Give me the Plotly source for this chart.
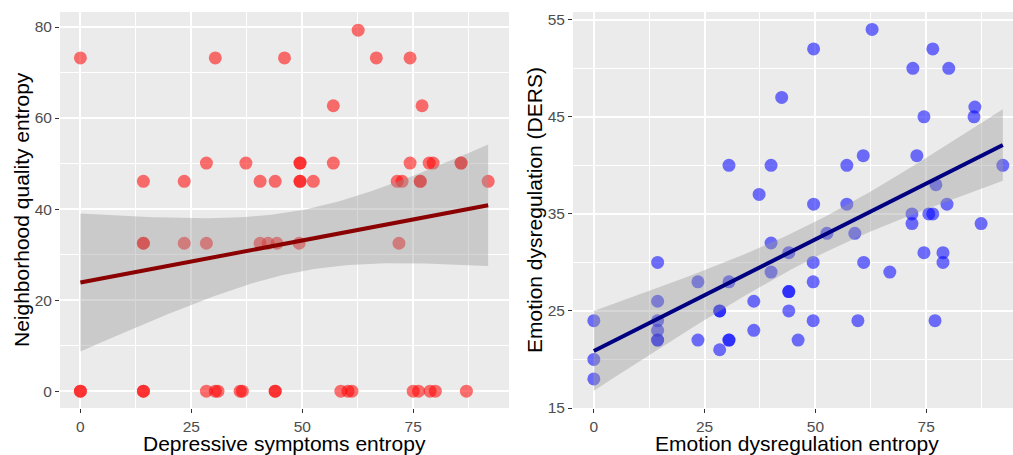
import numpy as np
import plotly.graph_objects as go

# ---- Left panel data: Depressive symptoms entropy vs Neighborhood quality entropy
dep_x = [0, 30.4, 46, 66.7, 74.3,
         62.6,
         57, 77,
         28.4, 37.3, 49.5, 49.5, 57, 74.3, 78.6, 79.5, 85.8, 85.8,
         14.2, 23.4, 40.5, 43.9, 49.5, 49.5, 52.5, 71.4, 72.5, 76.6, 76.6, 91.9,
         14.2, 14.2, 23.4, 28.4, 40.5, 42.3, 44.3, 49.3, 71.8,
         0, 0, 14.2, 14.2, 28.4, 30.4, 31, 36, 36.5, 43.9, 43.9, 58.7, 60.3, 61.2,
         75, 76.2, 78.8, 80, 87]
nbh_y = [73.2, 73.2, 73.2, 73.2, 73.2,
         79.3,
         62.7, 62.7,
         50.1, 50.1, 50.1, 50.1, 50.1, 50.1, 50.1, 50.1, 50.1, 50.1,
         46.1, 46.1, 46.1, 46.1, 46.1, 46.1, 46.1, 46.1, 46.1, 46.1, 46.1, 46.1,
         32.5, 32.5, 32.5, 32.5, 32.5, 32.5, 32.5, 32.5, 32.5,
         0, 0, 0, 0, 0, 0, 0, 0, 0, 0, 0, 0, 0, 0,
         0, 0, 0, 0, 0]

# ---- Right panel data: Emotion dysregulation entropy vs DERS
emo_x = [0, 0, 0,
         14.4, 14.4, 14.4, 14.4, 14.4, 14.4,
         23.5, 23.5,
         28.4, 28.4, 28.4,
         30.5, 30.5, 30.5, 30.5,
         36.1, 36.1, 37.3,
         40, 40, 40,
         42.4,
         44, 44, 44, 44,
         46.1,
         49.6, 49.6, 49.5, 49.5, 49.5,
         52.6,
         57.1, 57.1,
         58.9, 59.6,
         60.8, 60.9,
         62.8,
         66.8,
         71.8, 71.8, 72, 72.9,
         74.5, 74.5,
         75.6, 76.5, 76.5, 77.2, 77,
         78.8, 78.8, 79.7, 80.1,
         85.8, 86, 87.4, 92.3]
ders_y = [24, 20, 18,
          30, 26, 24, 23, 22, 22,
          28, 22,
          25, 25, 21,
          28, 40, 22, 22,
          26, 23, 37,
          40, 32, 29,
          47,
          31, 27, 27, 25,
          22,
          52, 36, 30, 28, 24,
          33,
          40, 36,
          33, 24,
          41, 30,
          54,
          29,
          35, 34, 50, 41,
          45, 31,
          35, 52, 35, 38, 24,
          31, 30, 36, 50,
          45, 46, 34, 40]

left_ticks_x = [0, 25, 50, 75]
left_ticks_y = [0, 20, 40, 60, 80]
right_ticks_x = [0, 25, 50, 75]
right_ticks_y = [15, 25, 35, 45, 55]

T975 = 2.0  # t quantile for ~60 df


def lm_band(x, y, n=80):
    x = np.asarray(x, float)
    y = np.asarray(y, float)
    b1, b0 = np.polyfit(x, y, 1)
    res = y - (b0 + b1 * x)
    dfree = len(x) - 2
    s = np.sqrt(np.sum(res ** 2) / dfree)
    xs = np.linspace(x.min(), x.max(), n)
    fit = b0 + b1 * xs
    se = s * np.sqrt(1 / len(x) + (xs - x.mean()) ** 2 / np.sum((x - x.mean()) ** 2))
    return xs, fit, fit - T975 * se, fit + T975 * se


fig = go.Figure()

W, H = 1013, 455


def px_x(p):
    return p / W


def px_y(p):
    return 1 - p / H


panels = [
    dict(x=dep_x, y=nbh_y, xa="x", ya="y", pt="rgba(255,0,0,0.55)", ln="#8B0000"),
    dict(x=emo_x, y=ders_y, xa="x2", ya="y2", pt="rgba(0,0,255,0.55)", ln="#000080"),
]

for p in panels:
    xs, fit, lo, hi = lm_band(p["x"], p["y"])
    fig.add_trace(go.Scatter(x=p["x"], y=p["y"], mode="markers", xaxis=p["xa"], yaxis=p["ya"],
                             marker=dict(size=13, color=p["pt"], line=dict(width=0)),
                             showlegend=False, hoverinfo="skip"))
    fig.add_trace(go.Scatter(x=np.concatenate([xs, xs[::-1]]), y=np.concatenate([hi, lo[::-1]]),
                             mode="lines", fill="toself", fillcolor="rgba(153,153,153,0.4)",
                             line=dict(width=0), xaxis=p["xa"], yaxis=p["ya"],
                             showlegend=False, hoverinfo="skip"))
    fig.add_trace(go.Scatter(x=xs, y=fit, mode="lines", line=dict(color=p["ln"], width=4),
                             xaxis=p["xa"], yaxis=p["ya"], showlegend=False, hoverinfo="skip"))

axis_common = dict(
    showgrid=True, gridcolor="white", gridwidth=2, zeroline=False,
    ticks="outside", ticklen=4, tickwidth=1, tickcolor="#333333",
    tickfont=dict(family="Liberation Sans, Arial", size=15.5, color="#4D4D4D"),
    showline=False, automargin=False,
)

fig.update_layout(
    width=W, height=H,
    margin=dict(l=0, r=0, t=0, b=0),
    paper_bgcolor="white",
    plot_bgcolor="#EBEBEB",
    xaxis=dict(domain=[px_x(60), px_x(509)], range=[-4.6, 96.6], tickvals=left_ticks_x,
               minor=dict(dtick=12.5, tick0=12.5, showgrid=True, gridcolor="white", gridwidth=1, ticks=""),
               anchor="y", **axis_common),
    yaxis=dict(domain=[px_y(408), px_y(12)], range=[-3.7, 83.3], tickvals=left_ticks_y,
               minor=dict(dtick=10, tick0=10, showgrid=True, gridcolor="white", gridwidth=1, ticks=""),
               anchor="x", **axis_common),
    xaxis2=dict(domain=[px_x(573), 1.0], range=[-4.7, 94.6], tickvals=right_ticks_x,
                minor=dict(dtick=12.5, tick0=12.5, showgrid=True, gridcolor="white", gridwidth=1, ticks=""),
                anchor="y2", **axis_common),
    yaxis2=dict(domain=[px_y(408), px_y(12)], range=[15, 55.8], tickvals=right_ticks_y,
                minor=dict(dtick=5, tick0=20, showgrid=True, gridcolor="white", gridwidth=1, ticks=""),
                anchor="x2", **axis_common),
)

title_font = dict(family="Liberation Sans, Arial", size=21, color="black")
annots = [
    dict(text="Depressive symptoms entropy", x=px_x(284), y=px_y(443), textangle=0),
    dict(text="Neighborhood quality entropy", x=px_x(21), y=px_y(210), textangle=-90),
    dict(text="Emotion dysregulation entropy", x=px_x(797), y=px_y(443), textangle=0),
    dict(text="Emotion dysregulation (DERS)", x=px_x(534), y=px_y(210), textangle=-90),
]
for a in annots:
    fig.add_annotation(text=a["text"], x=a["x"], y=a["y"], xref="paper", yref="paper",
                       showarrow=False, textangle=a["textangle"], font=title_font,
                       xanchor="center", yanchor="middle")

fig.write_html("out.html", config={"displayModeBar": False},
               post_script="document.body.style.margin='0px';document.body.style.overflow='hidden';")
